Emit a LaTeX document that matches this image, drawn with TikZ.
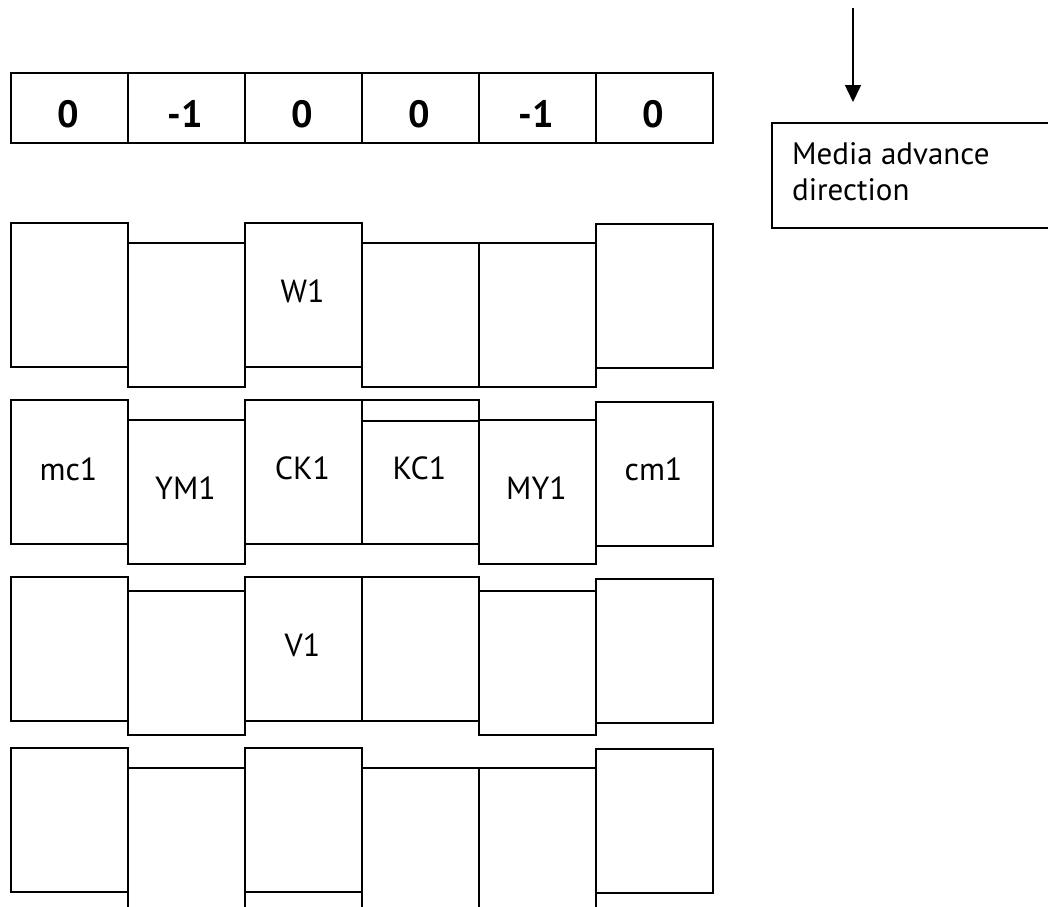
\documentclass[tikz,border=0pt]{standalone}
\usepackage{fontspec}
\setmainfont{PT Sans}
\usetikzlibrary{arrows.meta}
\tikzset{
  edge/.style={line width=1.5pt},
  cell/.style={draw, line width=1.5pt, minimum width=117pt, minimum height=144pt, inner sep=0pt, anchor=north west},
  topcell/.style={draw, line width=1.5pt, minimum width=117pt, minimum height=70pt, inner sep=0pt, anchor=north west},
  num/.style={font=\fontsize{38pt}{40pt}\selectfont\bfseries, anchor=base, inner sep=0pt},
  lbl/.style={font=\fontsize{32pt}{36pt}\selectfont, anchor=base, inner sep=0pt},
}
\begin{document}
\begin{tikzpicture}[x=1pt,y=-1pt]
\useasboundingbox (0,0) rectangle (1048,906);
\clip (0,0) rectangle (1048,906);
% top row
\foreach \i/\x/\v in {1/10/0,2/127/-1,3/244/0,4/361/0,5/478/-1,6/595/0}{
  \node[topcell] (top\i) at (\x,72) {};
  \node[num] (n\i) at (\x+58.5,127) {\v};
}
% row 1
\node[cell] (r1a) at (10,222) {};
\node[cell] (r1b) at (127,242) {};
\node[cell] (r1c) at (244,222) {};
\node[cell] (r1d) at (361,242) {};
\node[cell] (r1e) at (478,242) {};
\node[cell] (r1f) at (595,223) {};
\node[lbl] (tW1) at (302.5,302.7) {W1};
% row 2
\node[cell] (r2a) at (10,399) {};
\node[cell] (r2b) at (127,419) {};
\node[cell] (r2c) at (244,399) {};
\node[cell] (r2d) at (361,399) {};
\node[cell, minimum height=123pt] (r2dd) at (361,420) {};
\node[cell] (r2e) at (478,419) {};
\node[cell] (r2f) at (595,401) {};
\node[lbl] (tmc) at (68.5,480) {mc1};
\node[lbl] (tYM) at (185.5,499) {YM1};
\node[lbl] (tCK) at (302.5,479.3) {CK1};
\node[lbl] (tKC) at (419.5,479.3) {KC1};
\node[lbl] (tMY) at (536.5,499) {MY1};
\node[lbl] (tcm) at (653.5,480) {cm1};
% row 3
\node[cell] (r3a) at (10,576) {};
\node[cell] (r3b) at (127,590) {};
\node[cell] (r3c) at (244,576) {};
\node[cell] (r3d) at (361,576) {};
\node[cell] (r3e) at (478,590) {};
\node[cell] (r3f) at (595,578) {};
\node[lbl] (tV1) at (302.5,656) {V1};
% row 4
\node[cell] (r4a) at (10,747) {};
\node[cell] (r4b) at (127,767) {};
\node[cell] (r4c) at (244,747) {};
\node[cell] (r4d) at (361,767) {};
\node[cell] (r4e) at (478,767) {};
\node[cell] (r4f) at (595,748) {};
% direction
\coordinate (arrS) at (853,8);
\coordinate (arrE) at (853,102);
\draw[edge, -{Triangle[width=16pt,length=17pt]}] (arrS) -- (arrE);
\node[draw, line width=1.5pt, minimum width=300pt, minimum height=105pt, inner sep=0pt, anchor=north west] (dirbox) at (771,122) {};
\node[anchor=north west, inner sep=0pt, align=left, font=\fontsize{31pt}{36pt}\selectfont] (dirtext) at (792,142) {Media advance\\direction};
\end{tikzpicture}
\end{document}
